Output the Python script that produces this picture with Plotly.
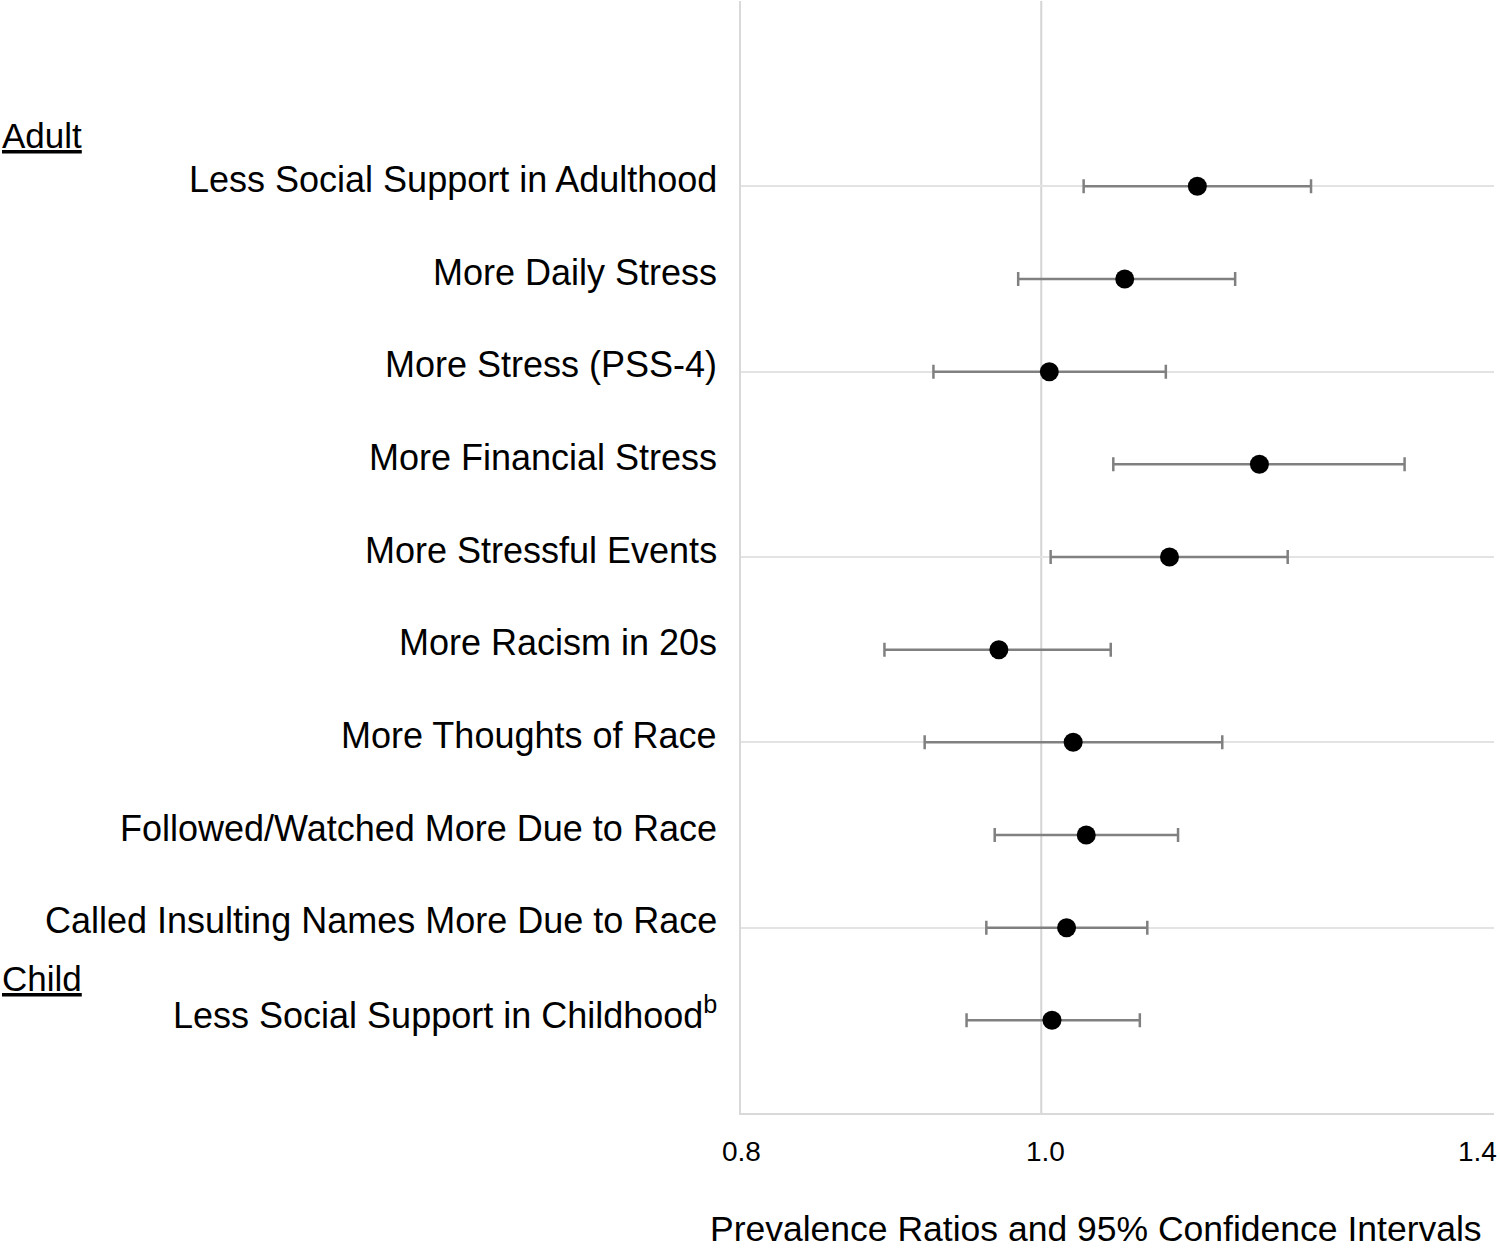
import math
import plotly.graph_objects as go

labels = [
    "Less Social Support in Adulthood",
    "More Daily Stress",
    "More Stress (PSS-4)",
    "More Financial Stress",
    "More Stressful Events",
    "More Racism in 20s",
    "More Thoughts of Race",
    "Followed/Watched More Due to Race",
    "Called Insulting Names More Due to Race",
    "Less Social Support in Childhood<sup>b</sup>",
]
row_pos = [10, 9, 8, 7, 6, 5, 4, 3, 2, 1]
pr = [1.123, 1.064, 1.006, 1.176, 1.100, 0.969, 1.024, 1.034, 1.019, 1.008]
ci_low = [1.032, 0.983, 0.923, 1.055, 1.007, 0.890, 0.917, 0.966, 0.960, 0.946]
ci_high = [1.222, 1.155, 1.097, 1.310, 1.201, 1.053, 1.144, 1.107, 1.082, 1.076]

group_labels = ["Adult", "Child"]
group_pos = [10.55, 1.45]

x_ticks = [0.8, 1.0, 1.4]
x_tick_text = ["0.8", "1.0", "1.4"]
x_title = "Prevalence Ratios and 95% Confidence Intervals"

FONT = "Liberation Sans, Arial, Helvetica, sans-serif"
W, H = 1500, 1251
ML, MR, MT, MB = 741, 6, 1, 138
PW = W - ML - MR

fig = go.Figure()
fig.add_trace(go.Scatter(
    x=pr, y=row_pos, mode="markers",
    marker=dict(color="black", size=19, symbol="circle"),
    error_x=dict(
        type="data", symmetric=False,
        array=[h - p for h, p in zip(ci_high, pr)],
        arrayminus=[p - l for p, l in zip(pr, ci_low)],
        color="#808080", thickness=2.5, width=7,
    ),
    showlegend=False, hoverinfo="skip",
))

# reference line at 1.0
fig.add_shape(type="line", xref="x", yref="paper", x0=1.0, x1=1.0, y0=0, y1=1,
              line=dict(color="#d4d4d4", width=2), layer="below")

annotations = []
for lab, y in zip(labels, row_pos):
    annotations.append(dict(
        text=lab, xref="paper", yref="y", x=-22 / PW, y=y, xanchor="right",
        yanchor="middle", yshift=7, showarrow=False,
        font=dict(family=FONT, size=36, color="black"),
    ))
for lab, y in zip(group_labels, group_pos):
    annotations.append(dict(
        text="<u>" + lab + "</u>", xref="paper", yref="y", x=-ML / PW, y=y,
        xanchor="left", yanchor="middle", showarrow=False,
        font=dict(family=FONT, size=35, color="black"),
    ))
for i, (tv, tt) in enumerate(zip(x_ticks, x_tick_text)):
    anchor = "right" if i == len(x_ticks) - 1 else "center"
    shift = [0, 4, 5][i]
    annotations.append(dict(
        text=tt, xref="x", yref="paper", x=math.log10(tv), y=0,
        xanchor=anchor, yanchor="middle", yshift=-38, xshift=shift,
        showarrow=False, font=dict(family=FONT, size=28, color="black"),
    ))
annotations.append(dict(
    text=x_title, xref="paper", yref="paper", x=0.471, y=0, xanchor="center",
    yanchor="middle", yshift=-116, showarrow=False,
    font=dict(family=FONT, size=35.5, color="black"),
))

fig.update_layout(
    width=W, height=H,
    margin=dict(l=ML, r=MR, t=MT, b=MB, pad=0),
    paper_bgcolor="white", plot_bgcolor="white",
    xaxis=dict(type="log", range=[math.log10(0.8), math.log10(1.4)],
               showgrid=False, showticklabels=False, ticks="", zeroline=False,
               showline=True, linecolor="#d9d9d9", linewidth=2, mirror=False),
    yaxis=dict(range=[0, 12], tickvals=[0, 2, 4, 6, 8, 10, 12], showticklabels=False,
               showgrid=True, gridcolor="#e3e3e3", gridwidth=2, zeroline=False,
               showline=True, linecolor="#d9d9d9", linewidth=2, ticks=""),
    annotations=annotations,
)

fig.write_html("out.html", config={"displayModeBar": False},
               post_script="document.body.style.margin='0';")
